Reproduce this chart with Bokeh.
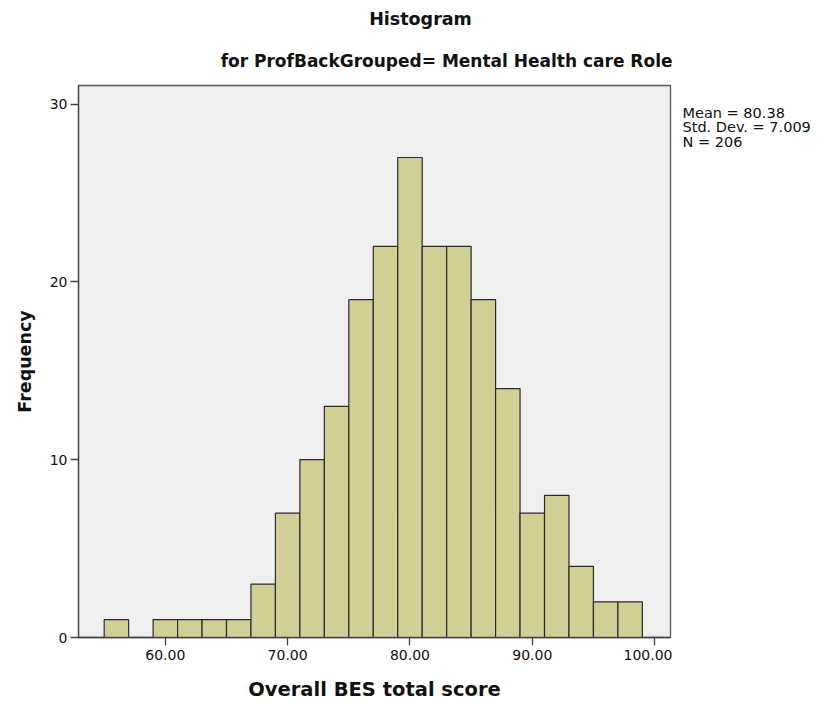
from bokeh.plotting import figure
from bokeh.models import Label, Range1d, FixedTicker, NumeralTickFormatter
from bokeh.layouts import column, row
from bokeh.embed import file_html
from bokeh.resources import INLINE

# Histogram bins (left edges, width 2) and frequencies
bin_left = [55, 57, 59, 61, 63, 65, 67, 69, 71, 73, 75, 77, 79, 81, 83, 85, 87, 89, 91, 93, 95, 97]
counts   = [1, 0, 1, 1, 1, 1, 3, 7, 10, 13, 19, 22, 27, 22, 22, 19, 14, 7, 8, 4, 2, 2]
bin_width = 2
x_ticks = [60, 70, 80, 90, 100]
y_ticks = [0, 10, 20, 30]
stats_lines = ["Mean = 80.38", "Std. Dev. = 7.009", "N = 206"]
title_text = "Histogram"
subtitle_text = "for ProfBackGrouped= Mental Health care Role"
x_label = "Overall BES total score"
y_label = "Frequency"

FONT = "DejaVu Sans"
TXT = "#111111"


def blank_fig(w, h):
    f = figure(width=w, height=h, output_backend="svg", toolbar_location=None,
               x_range=Range1d(0, w), y_range=Range1d(h, 0), min_border=0)
    f.axis.visible = False
    f.grid.visible = False
    f.outline_line_color = None
    f.background_fill_color = None
    f.border_fill_color = None
    return f


# --- title strip ---
TOP_H = 83
tfig = blank_fig(819, TOP_H)
tfig.add_layout(Label(x=420, y=18, text=title_text, text_font=FONT, text_font_style="bold",
                      text_font_size="17.5px", text_align="center", text_baseline="middle",
                      text_color=TXT))
tfig.add_layout(Label(x=672, y=60, text=subtitle_text, text_font=FONT, text_font_style="bold",
                      text_font_size="17px", text_align="right", text_baseline="middle",
                      text_color=TXT))

# --- main histogram ---
MAIN_W = 672
MAIN_H = 703 - TOP_H
p = figure(width=MAIN_W, height=MAIN_H, output_backend="svg", toolbar_location=None,
           x_range=Range1d(52.9, 101.3), y_range=Range1d(0, 31.05),
           min_border_left=78, min_border_right=2, min_border_top=2, min_border_bottom=66)
p.title = None
p.background_fill_color = "#EFEFEF"
p.border_fill_color = "white"
p.outline_line_color = "#555555"
p.outline_line_width = 1.3
p.grid.visible = False

lefts = [b for b, c in zip(bin_left, counts) if c > 0]
rights = [b + bin_width for b, c in zip(bin_left, counts) if c > 0]
tops = [c for c in counts if c > 0]
p.quad(left=lefts, right=rights, bottom=0, top=tops,
       fill_color="#D2CE96", line_color="#2A2A2A", line_width=1.2)

for ax in (p.xaxis[0], p.yaxis[0]):
    ax.axis_line_color = "#444444"
    ax.axis_line_width = 1.3
    ax.major_tick_line_color = "#444444"
    ax.major_tick_line_width = 1.3
    ax.major_tick_out = 8
    ax.major_tick_in = 0
    ax.minor_tick_line_color = None
    ax.major_label_text_font = FONT
    ax.major_label_text_font_size = "14px"
    ax.major_label_text_color = TXT
    ax.axis_label_text_font = FONT
    ax.axis_label_text_font_style = "bold"
    ax.axis_label_text_color = TXT

p.xaxis.ticker = FixedTicker(ticks=x_ticks)
p.xaxis.formatter = NumeralTickFormatter(format="0.00")
p.xaxis.axis_label = x_label
p.xaxis.axis_label_text_font_size = "19.5px"
p.xaxis.major_label_standoff = 4
p.xaxis.axis_label_standoff = 15

p.yaxis.ticker = FixedTicker(ticks=y_ticks)
p.yaxis.axis_label = y_label
p.yaxis.axis_label_text_font_size = "17.5px"
p.yaxis.major_label_standoff = 3
p.yaxis.axis_label_standoff = 12

# --- stats box on the right ---
sfig = blank_fig(819 - MAIN_W, MAIN_H)
for i, line in enumerate(stats_lines):
    sfig.add_layout(Label(x=682 - MAIN_W, y=(105 - TOP_H) + i * 16, text=line,
                          text_font=FONT, text_font_size="14.5px", text_align="left",
                          text_baseline="top", text_color=TXT))

layout = column(tfig, row(p, sfig, spacing=0), spacing=0)
open("out.html", "w").write(file_html(layout, INLINE))
